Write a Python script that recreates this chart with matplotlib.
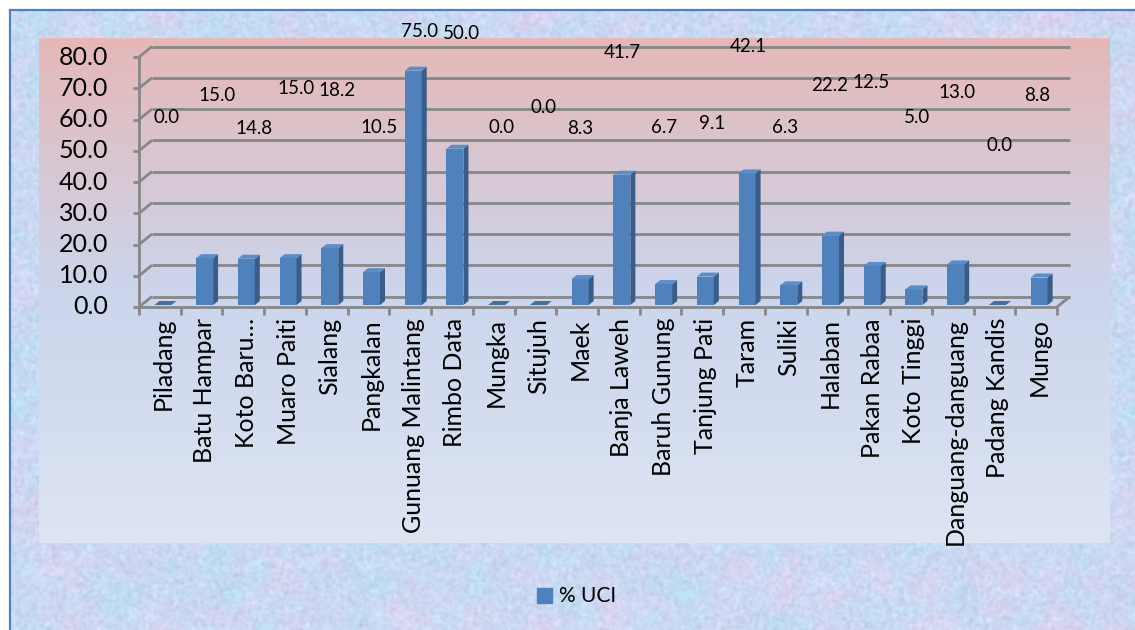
import numpy as np
import matplotlib
matplotlib.use("Agg")
import matplotlib.pyplot as plt
from matplotlib.patches import Polygon, Rectangle

plt.rcParams['font.family'] = ['Lato', 'DejaVu Sans']

# % UCI per nagari
kecamatan = ["Piladang", "Batu Hampar", "Koto Baru\u2026", "Muaro Paiti", "Sialang",
             "Pangkalan", "Gunuang Malintang", "Rimbo Data", "Mungka", "Situjuh",
             "Maek", "Banja Laweh", "Baruh Gunung", "Tanjung Pati", "Taram",
             "Suliki", "Halaban", "Pakan Rabaa", "Koto Tinggi", "Danguang-danguang",
             "Padang Kandis", "Mungo"]
uci = [0.0, 15.0, 14.8, 15.0, 18.2, 10.5, 75.0, 50.0, 0.0, 0.0, 8.3,
       41.7, 6.7, 9.1, 42.1, 6.3, 22.2, 12.5, 5.0, 13.0, 0.0, 8.8]
y_ticks = [0, 10, 20, 30, 40, 50, 60, 70, 80]

# where the data labels sit (value-axis units, and a sideways nudge in px)
label_y = [60.8, 67.8, 57.0, 69.8, 69.4, 57.3, 88.3, 87.4, 57.6, 63.7, 57.0,
           81.3, 57.3, 58.6, 83.5, 57.3, 71.0, 71.7, 60.5, 68.5, 51.8, 67.8]
label_dx = [7, 15, 11, 11, 10, 11, 9, 9, 8, 8, 3, 3, 3, 10, 4, -1, 2, 2, 6, 4, 5, 1]

W, H = 1135, 630
fig = plt.figure(figsize=(W / 100, H / 100), dpi=100)
fig.patch.set_facecolor('white')

# ---- background layer in pixel coordinates ----
bg = fig.add_axes([0, 0, 1, 1])
bg.set_xlim(0, W)
bg.set_ylim(H, 0)
bg.axis('off')


def blur(a, s):
    ky = np.fft.fftfreq(a.shape[0])[:, None]
    kx = np.fft.fftfreq(a.shape[1])[None, :]
    g = np.exp(-2 * (np.pi * s) ** 2 * (kx ** 2 + ky ** 2))
    out = np.real(np.fft.ifft2(np.fft.fft2(a) * g))
    return (out - out.mean()) / out.std()


rng = np.random.default_rng(11)
th, tw = 420, 760
n1 = blur(rng.standard_normal((th, tw)), 8)
n2 = blur(rng.standard_normal((th, tw)), 3)
n3 = blur(rng.standard_normal((th, tw)), 0.8)
base = np.array([203, 217, 242]) / 255
tex = (base[None, None, :]
       + 0.018 * n1[..., None] * np.array([1.0, -0.3, 0.0])
       + 0.014 * n2[..., None] * np.array([-0.6, 0.5, 0.2])
       + 0.018 * n3[..., None])
bg.imshow(np.clip(tex, 0, 1), extent=[10, W, H, 10], interpolation='bilinear',
          aspect='auto', zorder=0)
bg.plot([9.5, 9.5], [H, 9.5], color='#4f81bd', lw=1.6, zorder=1)
bg.plot([9.5, W], [9.5, 9.5], color='#4f81bd', lw=1.6, zorder=1)

# plot area gradient, pink at the top to pale blue at the bottom
stops = np.array([0.0, 0.5, 1.0])
cols = np.array([[230, 184, 183], [203, 213, 236], [221, 229, 243]]) / 255
t = np.linspace(0, 1, 256)
grad = np.stack([np.interp(t, stops, cols[:, c]) for c in range(3)], axis=-1)
bg.imshow(grad[:, None, :], extent=[39, 1110, 543, 38], aspect='auto',
          interpolation='bilinear', zorder=2)

# legend
bg.add_patch(Rectangle((537, 588), 15, 15, color='#4f81bd', zorder=3))
bg.text(559, 596, '% UCI', va='center', ha='left', fontsize=15, zorder=3)

# ---- chart ----
ax_l, ax_r, ax_b, ax_t = 139, 1057, 307, 57
ax = fig.add_axes([ax_l / W, 1 - ax_b / H, (ax_r - ax_l) / W, (ax_b - ax_t) / H])
ax.set_xlim(-0.5, len(uci) - 0.5)
ax.set_ylim(0, 80)
ax.axis('off')
ax.patch.set_alpha(0)

sx = len(uci) / (ax_r - ax_l)   # data units per px
sy = 80 / (ax_b - ax_t)
bdx, bdy = 13 * sx, 10.5 * sy   # back wall offset
xl, xr = -0.5, len(uci) - 0.5
grid_c = '#878787'
lk = dict(color=grid_c, lw=2.0, clip_on=False, solid_capstyle='butt', zorder=1)

for v in y_ticks:
    ax.plot([xl + bdx, xr + bdx], [v + bdy, v + bdy], **lk)
    ax.plot([xl, xl + bdx], [v, v + bdy], **lk)
    ax.plot([xl - 6 * sx, xl], [v, v], **lk)
    ax.text(xl - 31 * sx, v, f"{v:.1f}", ha='right', va='center', fontsize=18)
ax.plot([xl, xl], [0, 80], **lk)
ax.plot([xl, xr], [0, 0], **lk)
ax.plot([xr, xr + bdx], [0, bdy], **lk)
for k in range(len(uci) + 1):
    ax.plot([k - 0.5, k - 0.5], [0, -8 * sy], **lk)

# 3-D looking columns
fdx, fdy = 3 * sx, 2 * sy
bw = 17 * sx
ddx, ddy = 5 * sx, 4 * sy
for i, v in enumerate(uci):
    x0 = i - bw / 2 + fdx
    x1 = x0 + bw
    y0, y1 = fdy, fdy + v
    if v > 0:
        ax.add_patch(Rectangle((x0, y0), bw, v, facecolor='#4f81bd',
                               edgecolor='none', zorder=3, clip_on=False))
        ax.add_patch(Polygon([(x1, y0), (x1, y1), (x1 + ddx, y1 + ddy), (x1 + ddx, y0 + ddy)],
                             closed=True, facecolor='#385d8a', edgecolor='none',
                             zorder=3, clip_on=False))
    ax.add_patch(Polygon([(x0, y1), (x1, y1), (x1 + ddx, y1 + ddy), (x0 + ddx, y1 + ddy)],
                         closed=True, facecolor='#5b8dc9' if v > 0 else '#41719c',
                         edgecolor='none', zorder=3, clip_on=False))

    ax.text(i + label_dx[i] * sx, label_y[i], f"{v:.1f}", ha='center', va='center',
            fontsize=13.5, zorder=5, clip_on=False)
    ax.text(i + 3 * sx, -11 * sy, kecamatan[i], rotation=90, ha='center', va='top',
            fontsize=18, clip_on=False)

fig.savefig('out.png', dpi=100)
